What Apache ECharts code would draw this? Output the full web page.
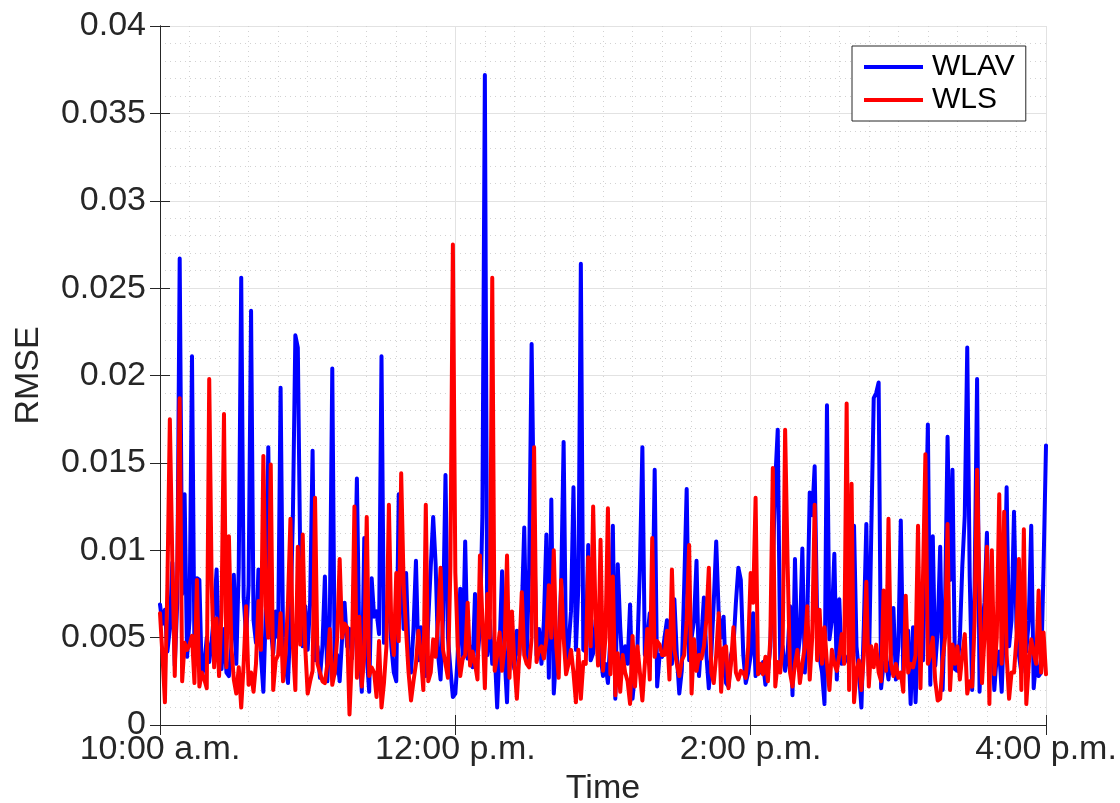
<!DOCTYPE html>
<html>
<head>
<meta charset="utf-8">
<script src="https://cdn.jsdelivr.net/npm/echarts@6/dist/echarts.min.js"></script>
<style>
  html, body { margin: 0; padding: 0; background: #fff; }
  #main { width: 1120px; height: 803px; }
</style>
</head>
<body>
<div id="main"></div>
<script>
// RMSE sampled once a minute from 10:00 a.m. to 4:00 p.m. (values in units of 1e-3)
var wlav = [
  6.9, 5.8, 6.6, 4.2, 5.5, 9.3, 3.4, 7.0, 26.7, 7.5,
  13.2, 3.9, 6.0, 21.1, 4.2, 8.4, 8.3, 2.7, 3.5, 5.0,
  3.6, 4.8, 6.5, 8.9, 4.0, 3.2, 5.5, 3.0, 2.8, 4.5,
  8.6, 3.5, 9.0, 25.6, 7.3, 5.0, 8.0, 23.7, 6.0, 4.7,
  8.9, 4.0, 1.9, 6.5, 15.9, 5.5, 4.1, 6.5, 5.0, 19.3,
  5.0, 3.5, 2.4, 6.0, 12.0, 22.3, 21.6, 9.2, 4.5, 6.8,
  4.3, 7.0, 15.7, 3.7, 4.5, 2.7, 4.5, 8.5, 2.5, 6.0,
  20.4, 2.9, 4.0, 2.5, 5.0, 7.0, 4.5, 5.5, 3.8, 6.5,
  14.1, 4.5, 1.9, 10.7, 4.0, 1.9, 8.4, 6.2, 6.5, 5.2,
  21.1, 4.7, 6.0, 7.5, 4.5, 3.0, 2.5, 13.2, 9.0, 5.5,
  8.7, 4.0, 3.0, 5.5, 9.4, 3.7, 5.6, 4.0, 2.8, 6.0,
  9.0, 11.9, 9.2, 4.0, 2.6, 6.0, 14.3, 5.0, 3.2, 1.6,
  1.8, 4.0, 7.8, 3.8, 10.5, 3.8, 4.5, 3.3, 7.5, 3.8,
  5.5, 12.0, 37.2, 4.0, 6.0, 3.5, 4.2, 1.0, 4.5, 8.8,
  4.0, 1.3, 6.3, 4.0, 3.2, 5.4, 4.0, 6.5, 11.3, 3.8,
  9.0, 21.8, 11.2, 4.0, 5.5, 3.5, 6.0, 10.9, 2.7, 12.9,
  1.8, 4.0, 4.5, 8.0, 16.2, 3.7, 4.5, 6.5, 13.6, 4.3,
  8.0, 26.4, 4.3, 4.2, 10.3, 3.7, 4.1, 6.0, 5.0, 4.0,
  2.8, 3.5, 2.4, 5.0, 11.4, 1.5, 9.2, 5.6, 3.0, 4.5,
  3.5, 6.9, 1.5, 3.0, 4.5, 9.0, 15.9, 4.0, 5.0, 6.4,
  5.0, 14.6, 2.2, 4.0, 3.9, 5.0, 6.0, 4.0, 3.5, 7.2,
  4.0, 1.8, 3.1, 8.0, 13.5, 3.7, 5.0, 6.0, 9.4, 2.8,
  5.0, 7.3, 4.0, 2.1, 4.0, 7.0, 10.5, 6.4, 5.0, 6.2,
  2.4, 2.2, 4.0, 4.5, 7.0, 9.0, 8.3, 4.0, 2.4, 3.0,
  4.0, 6.4, 2.8, 3.5, 3.0, 3.6, 2.3, 3.0, 4.5, 9.0,
  14.0, 16.9, 3.7, 4.5, 3.1, 4.0, 6.8, 1.7, 9.5, 3.7,
  5.0, 10.1, 3.0, 6.0, 13.3, 12.0, 14.8, 6.2, 3.9, 3.0,
  1.2, 18.3, 4.9, 6.0, 9.8, 2.6, 7.2, 3.5, 4.0, 3.8,
  3.5, 6.0, 11.4, 4.5, 3.0, 1.0, 5.8, 11.5, 2.8, 11.0,
  18.7, 19.0, 19.6, 2.1, 3.5, 3.7, 2.6, 4.0, 6.7, 2.6,
  4.5, 11.7, 3.1, 4.5, 5.4, 1.2, 5.6, 1.3, 5.0, 7.9,
  3.7, 10.0, 17.2, 2.3, 10.8, 3.4, 5.4, 10.2, 2.0, 7.0,
  16.5, 8.3, 14.6, 3.2, 3.1, 5.0, 9.1, 12.0, 21.6, 8.5,
  2.0, 8.0, 19.8, 1.9, 5.6, 7.0, 11.0, 3.3, 5.0, 2.0,
  4.0, 4.2, 1.9, 6.0, 13.6, 4.5, 6.0, 12.2, 5.6, 4.0,
  3.0, 4.5, 4.2, 6.0, 11.4, 2.1, 3.7, 2.8, 3.0, 9.0, 16.0
];
var wls = [
  6.4, 4.0, 1.3, 8.0, 17.5, 9.5, 2.8, 9.0, 18.7, 2.5,
  4.7, 4.3, 4.6, 5.1, 2.4, 8.3, 2.2, 3.0, 2.6, 2.1,
  19.8, 8.0, 3.3, 6.1, 2.8, 6.5, 17.8, 3.3, 10.8, 4.5,
  2.6, 1.8, 3.3, 1.0, 3.5, 6.8, 2.3, 3.0, 1.9, 3.5,
  7.1, 4.3, 15.4, 6.8, 5.0, 14.9, 2.0, 3.7, 4.0, 6.4,
  2.5, 4.0, 7.0, 11.8, 4.5, 2.0, 10.2, 4.6, 10.9, 4.5,
  1.8, 2.5, 3.1, 13.0, 3.5, 3.0, 2.5, 2.4, 3.5, 5.5,
  2.3, 3.0, 5.0, 9.5, 5.0, 5.8, 5.6, 0.6, 4.0, 12.5,
  2.7, 6.2, 2.2, 4.0, 11.9, 2.8, 3.3, 3.0, 1.6, 4.8,
  1.0, 2.4, 4.5, 12.6, 5.4, 4.0, 8.7, 4.8, 14.4, 8.0,
  5.4, 3.0, 1.4, 2.5, 3.5, 5.4, 4.0, 2.0, 12.6, 2.5,
  3.0, 4.9, 3.9, 6.0, 9.0, 4.3, 3.5, 2.7, 9.1, 27.5,
  8.7, 4.5, 2.8, 3.8, 4.0, 7.0, 3.4, 4.2, 3.5, 2.6,
  9.7, 6.0, 2.1, 7.5, 5.0, 25.6, 3.1, 4.0, 5.3, 3.1,
  4.5, 9.7, 2.7, 6.5, 3.5, 1.5, 4.0, 7.6, 4.0, 3.5,
  3.3, 5.0, 15.9, 3.6, 4.3, 4.5, 3.8, 4.9, 8.0, 5.0,
  10.0, 4.5, 2.7, 8.3, 5.0, 2.9, 3.5, 4.3, 3.0, 1.3,
  4.3, 1.5, 3.6, 3.5, 9.6, 4.5, 12.5, 6.0, 3.4, 10.6,
  3.1, 5.0, 12.4, 2.9, 8.5, 1.7, 4.1, 1.9, 4.0, 3.0,
  2.5, 1.2, 5.1, 2.2, 4.5, 3.0, 1.4, 3.5, 5.5, 2.6,
  10.7, 3.9, 4.8, 4.6, 4.0, 4.0, 5.4, 2.6, 8.9, 4.3,
  3.5, 2.8, 3.7, 4.0, 6.0, 10.3, 1.8, 4.9, 3.1, 4.0,
  3.8, 4.5, 6.0, 9.0, 3.0, 2.4, 4.0, 6.4, 1.9, 4.4,
  4.5, 2.1, 3.5, 5.6, 3.0, 2.6, 3.1, 3.0, 2.7, 4.5,
  8.7, 7.0, 13.0, 2.9, 3.5, 2.9, 3.9, 2.5, 5.0, 14.7,
  2.2, 3.6, 3.0, 4.5, 16.9, 9.3, 3.0, 2.2, 3.5, 4.3,
  2.4, 3.5, 4.5, 6.8, 2.6, 5.0, 12.6, 3.7, 6.6, 3.5,
  5.6, 3.5, 2.0, 4.3, 3.5, 3.1, 4.0, 5.2, 3.5, 18.4,
  2.0, 13.8, 1.3, 3.0, 3.7, 2.0, 4.0, 8.2, 2.2, 4.5,
  3.3, 4.6, 3.0, 2.5, 7.7, 3.1, 11.8, 3.5, 2.8, 3.5,
  2.7, 3.0, 1.9, 7.4, 3.0, 3.5, 3.3, 4.0, 11.4, 2.1,
  8.3, 15.5, 3.5, 4.0, 5.0, 2.5, 1.4, 1.5, 3.7, 5.0,
  11.5, 2.0, 4.6, 3.5, 4.5, 2.6, 4.0, 5.2, 1.8, 2.5,
  2.2, 6.0, 14.6, 7.5, 2.4, 5.0, 10.2, 1.2, 10.0, 2.9,
  5.0, 13.2, 3.5, 12.2, 4.0, 1.5, 3.0, 3.0, 5.0, 9.5,
  2.0, 11.2, 1.2, 3.5, 4.9, 4.1, 3.5, 7.7, 3.0, 5.3, 2.9
];
var xTickLabels = ["10:00 a.m.", "12:00 p.m.", "2:00 p.m.", "4:00 p.m."];
var yTickLabels = ["0", "0.005", "0.01", "0.015", "0.02", "0.025", "0.03", "0.035", "0.04"];

var font = "Liberation Sans";
var ink = "#262626";

function toPoints(arr) {
  return arr.map(function (v, i) { return [i, v / 1000]; });
}

var myChart = echarts.init(document.getElementById("main"), null, { width: 1120, height: 803 });

var xBase = { type: "value", min: 0, max: 360, interval: 120 };
var yBase = { type: "value", min: 0, max: 0.04, interval: 0.005 };
var line = { show: true, lineStyle: { color: ink, width: 1 } };
var tick = { show: true, inside: true, length: 10, lineStyle: { color: ink, width: 1 } };
var minorGrid = { show: true, lineStyle: { color: "#d2d2d2", type: [1, 4], width: 1 } };

var option = {
  animation: false,
  backgroundColor: "#fff",
  grid: { left: 160, right: 74, top: 26, bottom: 78, outerBoundsMode: "none", containLabel: false },
  legend: {
    orient: "vertical",
    left: 852,
    top: 46,
    padding: [6, 11, 6, 12],
    itemGap: 3,
    itemWidth: 59,
    itemHeight: 4,
    icon: "rect",
    borderColor: ink,
    borderWidth: 1,
    backgroundColor: "#fff",
    textStyle: { fontFamily: font, fontSize: 30, color: "#000", lineHeight: 30, padding: [0, 0, 0, 4] },
    data: ["WLAV", "WLS"]
  },
  xAxis: [
    Object.assign({}, xBase, {
      position: "bottom",
      axisLine: line,
      axisTick: tick,
      axisLabel: {
        margin: 8,
        color: ink,
        fontFamily: font,
        fontSize: 34,
        formatter: function (v) { return xTickLabels[Math.round(v / 120)]; }
      },
      splitLine: { show: true, lineStyle: { color: "#e2e2e2", width: 1 } },
      minorTick: { show: false, splitNumber: 10 },
      minorSplitLine: minorGrid,
      name: "Time",
      nameLocation: "middle",
      nameGap: 42,
      nameTextStyle: { fontFamily: font, fontSize: 34, color: ink }
    }),
    Object.assign({}, xBase, {
      position: "top",
      axisLine: line,
      axisTick: tick,
      axisLabel: { show: false },
      splitLine: { show: false }
    })
  ],
  yAxis: [
    Object.assign({}, yBase, {
      position: "left",
      axisLine: line,
      axisTick: tick,
      axisLabel: {
        margin: 14,
        color: ink,
        fontFamily: font,
        fontSize: 34,
        formatter: function (v) { return yTickLabels[Math.round(v / 0.005)]; }
      },
      splitLine: { show: true, lineStyle: { color: "#e2e2e2", width: 1 } },
      minorTick: { show: false, splitNumber: 5 },
      minorSplitLine: minorGrid,
      name: "RMSE",
      nameLocation: "middle",
      nameGap: 114,
      nameTextStyle: { fontFamily: font, fontSize: 34, color: ink }
    }),
    Object.assign({}, yBase, {
      position: "right",
      axisLine: line,
      axisTick: tick,
      axisLabel: { show: false },
      splitLine: { show: false }
    })
  ],
  series: [
    {
      name: "WLAV",
      type: "line",
      showSymbol: false,
      color: "#0000ff",
      lineStyle: { width: 4, color: "#0000ff", join: "round", cap: "round" },
      data: toPoints(wlav)
    },
    {
      name: "WLS",
      type: "line",
      showSymbol: false,
      color: "#ff0000",
      lineStyle: { width: 4, color: "#ff0000", join: "round", cap: "round" },
      data: toPoints(wls)
    }
  ]
};

myChart.setOption(option);
</script>
</body>
</html>
